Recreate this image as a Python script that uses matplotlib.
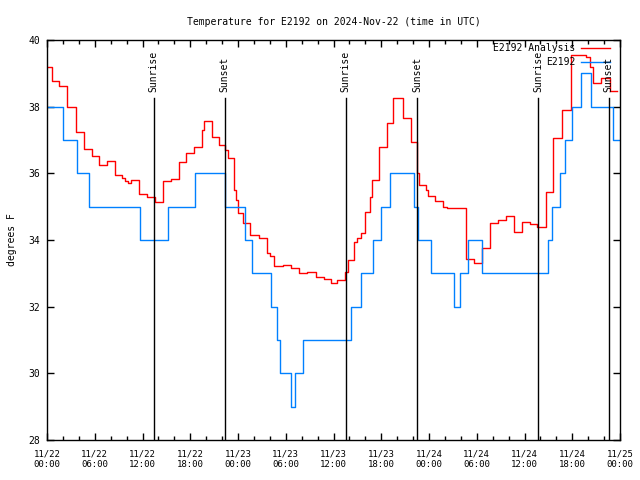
import numpy as np
import matplotlib
matplotlib.use('Agg')
import matplotlib.pyplot as plt

# observed station values: (hours since 11/22 00:00 UTC, deg F), step changes
obs_t = [0, 2.0, 3.8, 5.3, 11.7, 15.2, 18.6, 22.4, 24.9, 25.7, 28.2, 28.9, 29.3, 30.7,
         31.2, 32.2, 38.2, 39.4, 41.0, 42.0, 43.1, 46.1, 46.6, 48.2, 51.1, 51.9, 52.9,
         54.7, 63.0, 63.5, 64.4, 65.1, 66.0, 67.1, 68.3, 71.1, 72.0]
obs_v = [38, 37, 36, 35, 34, 35, 36, 35, 34, 33, 32, 31, 30, 29,
         30, 31, 32, 33, 34, 35, 36, 35, 34, 33, 32, 33, 34,
         33, 34, 35, 36, 37, 38, 39, 38, 37, 37]

# analysis values
ana_t = [0, 0.6, 1.5, 2.5, 3.7, 4.6, 5.6, 6.55, 7.6, 8.5, 9.4, 9.8, 10.2, 10.5, 11.6,
         12.6, 13.6, 14.6, 15.6, 16.6, 17.5, 18.5, 19.5, 19.7, 20.7, 21.6, 22.4, 22.7,
         23.5, 23.7, 24.0, 24.6, 25.5, 26.7, 27.6, 28.0, 28.5, 29.6, 30.6, 31.7, 32.7,
         33.8, 34.8, 35.7, 36.5, 37.5, 37.8, 38.6, 39.0, 39.5, 39.9, 40.6, 40.8, 41.7,
         42.7, 43.5, 44.7, 45.7, 46.5, 46.7, 47.6, 47.9, 48.8, 49.7, 50.3, 52.7, 53.7,
         54.7, 55.7, 56.7, 57.7, 58.7, 59.7, 60.7, 61.6, 62.7, 63.6, 64.7, 65.8, 67.7,
         68.2, 68.6, 69.6, 70.7, 71.6]
ana_v = [39.2, 38.77, 38.62, 38.0, 37.25, 36.72, 36.52, 36.25, 36.37, 35.95, 35.85, 35.78,
         35.7, 35.8, 35.38, 35.3, 35.13, 35.78, 35.83, 36.33, 36.6, 36.78, 37.3, 37.58,
         37.1, 36.85, 36.7, 36.45, 35.5, 35.2, 34.82, 34.5, 34.15, 34.07, 33.6, 33.52,
         33.22, 33.25, 33.15, 33.0, 33.05, 32.9, 32.83, 32.72, 32.8, 33.05, 33.4, 33.95,
         34.05, 34.2, 34.85, 35.3, 35.8, 36.8, 37.5, 38.25, 37.65, 36.93, 36.0, 35.65,
         35.5, 35.33, 35.17, 35.0, 34.95, 33.42, 33.3, 33.75, 34.52, 34.6, 34.72, 34.23,
         34.55, 34.47, 34.4, 35.45, 37.05, 37.9, 39.55, 39.5, 39.2, 38.7, 38.85, 38.47,
         38.47]

sun_t = [13.4, 22.35, 37.55, 46.5, 61.7, 70.6]
sun_lbl = ['Sunrise', 'Sunset', 'Sunrise', 'Sunset', 'Sunrise', 'Sunset']

tick_t = list(range(0, 73, 6))
tick_lbl = ['11/22\n00:00', '11/22\n06:00', '11/22\n12:00', '11/22\n18:00',
            '11/23\n00:00', '11/23\n06:00', '11/23\n12:00', '11/23\n18:00',
            '11/24\n00:00', '11/24\n06:00', '11/24\n12:00', '11/24\n18:00',
            '11/25\n00:00']

plt.rcParams['font.family'] = 'DejaVu Sans Mono'
plt.rcParams['font.size'] = 7

fig = plt.figure(figsize=(6.4, 4.8), dpi=100)
ax = fig.add_axes([47 / 640, 40 / 480, 573 / 640, 400 / 480])

ax.plot(ana_t, ana_v, color='#ff0000', lw=1, drawstyle='steps-post')
ax.plot(obs_t, obs_v, color='#0080ff', lw=1, drawstyle='steps-post')

for t, lbl in zip(sun_t, sun_lbl):
    ax.plot([t, t], [0, 0.855], color='black', lw=1, transform=ax.get_xaxis_transform())
    ax.text(t, 0.87, lbl, rotation=90, ha='center', va='bottom',
            transform=ax.get_xaxis_transform())

# gnuplot-style key
ax.text(0.922, 0.98, 'E2192 Analysis', ha='right', va='center', transform=ax.transAxes)
ax.plot([0.932, 0.983], [0.98, 0.98], color='#ff0000', lw=1, transform=ax.transAxes)
ax.text(0.922, 0.945, 'E2192', ha='right', va='center', transform=ax.transAxes)
ax.plot([0.932, 0.983], [0.945, 0.945], color='#0080ff', lw=1, transform=ax.transAxes)

ax.set_xlim(0, 72)
ax.set_ylim(28, 40)
ax.set_xticks(tick_t)
ax.set_xticklabels(tick_lbl)
ax.set_xticks(np.arange(0, 73, 2), minor=True)
ax.set_yticks(np.arange(28, 41, 2))
ax.tick_params(direction='in', top=True, right=True, length=5, width=1, pad=5)
ax.tick_params(axis='x', labelsize=6.5, pad=7)
ax.tick_params(which='minor', direction='in', top=True, length=3, width=1)
for s in ax.spines.values():
    s.set_linewidth(1)

ax.set_ylabel('degrees F', labelpad=8)
ax.set_title('Temperature for E2192 on 2024-Nov-22 (time in UTC)', fontsize=7, pad=11)

plt.savefig('out.png', dpi=100)
